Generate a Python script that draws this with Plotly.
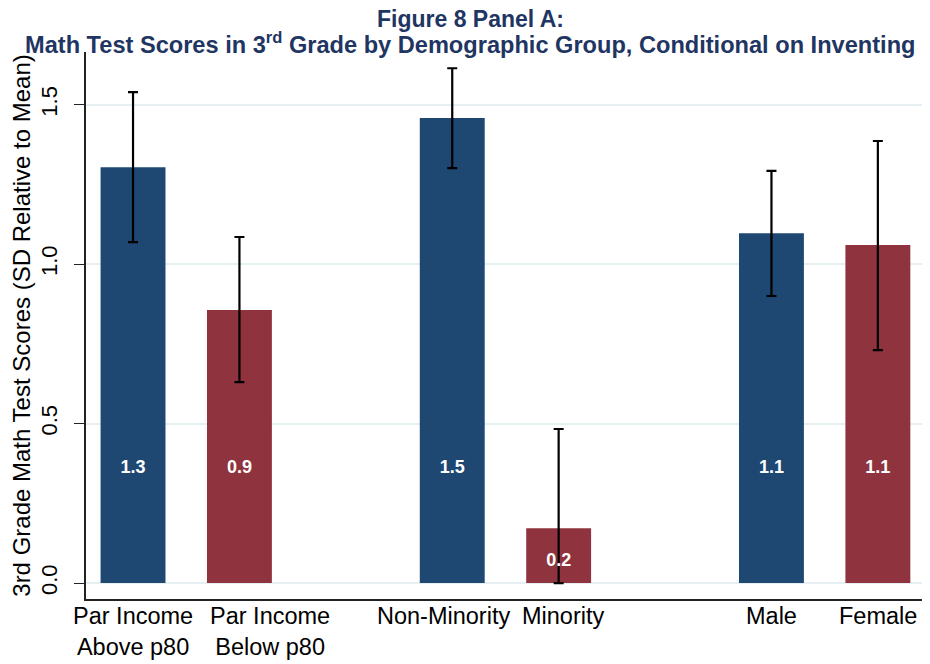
import plotly.graph_objects as go

categories = ["Par Income<br>Above p80", "Par Income<br>Below p80", "Non-Minority", "Minority", "Male", "Female"]
positions = [1, 2, 4, 5, 7, 8]
values = [1.304, 0.856, 1.458, 0.172, 1.097, 1.060]
ci_upper = [1.539, 1.085, 1.614, 0.483, 1.292, 1.386]
ci_lower = [1.069, 0.630, 1.301, 0.000, 0.900, 0.730]
groups = ["high", "low", "high", "low", "high", "low"]
title_line1 = "Figure 8 Panel A:"
title_line2 = "Math Test Scores in 3<sup>rd</sup> Grade by Demographic Group, Conditional on Inventing"
y_title = "3rd Grade Math Test Scores (SD Relative to Mean)"

BLUE = "#1e4872"
RED = "#8f343e"
NAVY = "#1f3562"
FONT = "Liberation Sans, Arial, sans-serif"
colors = [BLUE if g == "high" else RED for g in groups]
label_nudge = [0, 31, -9, 5, 0, 0]  # pixel nudges of category labels (layout only)

fig = go.Figure()
fig.add_trace(go.Bar(
    x=positions, y=values, width=0.61,
    marker=dict(color=colors, line=dict(width=0)),
    error_y=dict(type="data", symmetric=False,
                 array=[u - v for u, v in zip(ci_upper, values)],
                 arrayminus=[v - l for v, l in zip(values, ci_lower)],
                 color="black", thickness=2.2, width=5),
    showlegend=False, hoverinfo="skip",
))

label_y = [0.36 if v > 0.45 else 0.4 * v for v in values]
fig.add_trace(go.Scatter(
    x=positions, y=label_y, mode="text",
    text=[f"{v:.1f}" for v in values],
    textfont=dict(family=FONT, size=18, color="white", weight="bold"),
    textposition="middle center", showlegend=False, hoverinfo="skip",
))

for pos, cat, dx in zip(positions, categories, label_nudge):
    fig.add_annotation(text=cat, x=pos, xref="x", y=0, yref="paper",
                       xanchor="center", yanchor="top", yshift=-2, xshift=dx,
                       showarrow=False, align="center",
                       font=dict(family=FONT, size=23.5, color="black"))

fig.add_annotation(text=f"<b>{title_line1}</b>", xref="paper", yref="paper",
                   x=0.455, y=1.06, xanchor="center", yanchor="middle",
                   showarrow=False, font=dict(family=FONT, size=23, color=NAVY))
fig.add_annotation(text=f"<b>{title_line2}</b>", xref="paper", yref="paper",
                   x=0.455, y=1.016, xanchor="center", yanchor="middle",
                   showarrow=False, font=dict(family=FONT, size=23.6, color=NAVY))

fig.update_layout(
    width=930, height=664,
    margin=dict(l=78, r=8, t=44, b=73, autoexpand=False),
    paper_bgcolor="white", plot_bgcolor="white",
    font=dict(family=FONT, size=23, color="black"),
    xaxis=dict(
        range=[0.558, 8.49], tickmode="array", tickvals=positions, ticktext=[""] * len(positions),
        tickangle=0, automargin=False, showticklabels=False,
        showgrid=False, zeroline=False, showline=True, linecolor="#222", linewidth=1.5,
        ticks="",
    ),
    yaxis=dict(
        range=[-0.05, 1.665], tickmode="array", tickvals=[0, 0.5, 1.0, 1.5],
        ticktext=["0.0", "0.5", "1.0", "1.5"], tickangle=-90, automargin=False,
        showgrid=True, gridcolor="#e6eff1", gridwidth=2, zeroline=False,
        showline=True, linecolor="#222", linewidth=1.5,
        ticks="outside", ticklen=10, tickcolor="#222", tickwidth=1.2,
        ticklabelstandoff=8,
        tickfont=dict(size=22),
        title=dict(text=y_title, font=dict(size=24), standoff=2),
    ),
)

fig.write_html("out.html")
